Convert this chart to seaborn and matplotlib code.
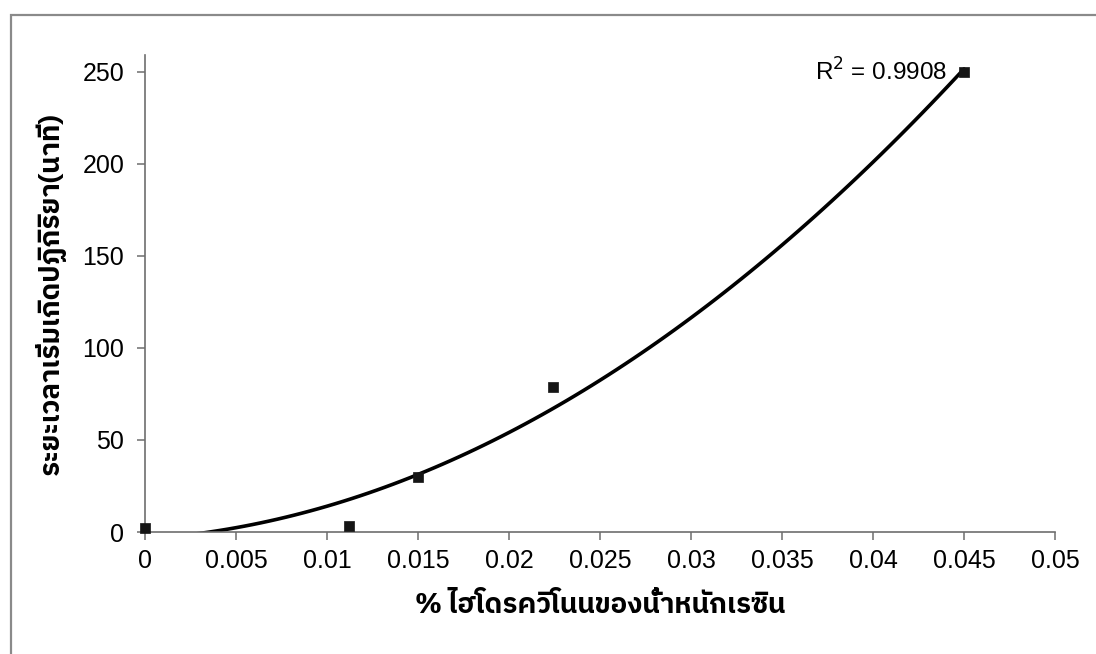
import numpy as np
import pandas as pd
import matplotlib
matplotlib.use("Agg")
import matplotlib.pyplot as plt
from matplotlib import font_manager as fm
from matplotlib.ft2font import FT2Font
from matplotlib.patches import Rectangle
import seaborn as sns

# Hydroquinone content (% of resin weight) vs. induction time (minutes)
hydroquinone_pct = [0.0, 0.0112, 0.015, 0.0224, 0.045]
onset_minutes = [2, 3, 30, 79, 249.5]

x_ticks = [0, 0.005, 0.01, 0.015, 0.02, 0.025, 0.03, 0.035, 0.04, 0.045, 0.05]
x_tick_labels = ["0", "0.005", "0.01", "0.015", "0.02", "0.025", "0.03",
                 "0.035", "0.04", "0.045", "0.05"]
y_ticks = [0, 50, 100, 150, 200, 250]

x_label = "% ไฮโดรควิโนนของน้ำหนักเรซิน"
y_label = "ระยะเวลาเริ่มเกิดปฏิกิริยา(นาที)"
r2_label = "R$^2$ = 0.9908"


def thai_family():
    """Pick an installed font that covers the Thai block."""
    best = None
    for f in fm.fontManager.ttflist:
        try:
            cmap = FT2Font(f.fname).get_charmap()
        except Exception:
            continue
        if 0x0E44 in cmap and 0x0E01 in cmap:
            if best is None:
                best = f.name
            if "sans" in f.name.lower():
                return f.name
    return best


sns.set_theme(style="white")
base = ["Liberation Sans", "DejaVu Sans"]
thai = thai_family()
plt.rcParams["font.family"] = base
label_family = ([thai] if thai else []) + base

df = pd.DataFrame({"x": hydroquinone_pct, "y": onset_minutes})

fig = plt.figure(figsize=(10.96, 6.54), dpi=100)
fig.patch.set_facecolor("white")
fig.add_artist(Rectangle((11 / 1096, -0.05), 1.2, 1.05 - 15 / 654,
                         transform=fig.transFigure, fill=False,
                         edgecolor="#8a8a8a", linewidth=1.6))
ax = fig.add_axes([145 / 1096, 1 - 532 / 654, 910 / 1096, 477 / 654])

sns.regplot(data=df, x="x", y="y", order=2, ci=None, ax=ax,
            marker="s",
            scatter_kws=dict(s=62, color="#151515", edgecolor="#151515",
                             alpha=1.0, linewidths=0.5, zorder=3,
                             clip_on=False),
            line_kws=dict(color="black", linewidth=2.6, zorder=2))

ax.set_xlim(0, 0.05)
ax.set_ylim(0, 259)
ax.set_xticks(x_ticks)
ax.set_xticklabels(x_tick_labels)
ax.set_yticks(y_ticks)

for side in ("top", "right"):
    ax.spines[side].set_visible(False)
for side in ("left", "bottom"):
    ax.spines[side].set_color("#6e6e6e")
    ax.spines[side].set_linewidth(1.2)

ax.tick_params(axis="both", which="major", direction="out", length=6,
               width=1.1, color="#6e6e6e", labelsize=18, labelcolor="#000000",
               bottom=True, left=True)
ax.tick_params(axis="x", pad=6)
ax.tick_params(axis="y", pad=9)

ax.set_xlabel(x_label, fontsize=20, fontweight="bold", family=label_family,
              color="#000000", labelpad=14)
ax.set_ylabel(y_label, fontsize=20, fontweight="bold", family=label_family,
              color="#000000", labelpad=12)

ax.annotate(r2_label, xy=(0.045, 250), xytext=(-12, 0),
            textcoords="offset points", ha="right", va="center",
            fontsize=17.5, color="#000000")

fig.savefig("out.png", dpi=100, facecolor="white")
